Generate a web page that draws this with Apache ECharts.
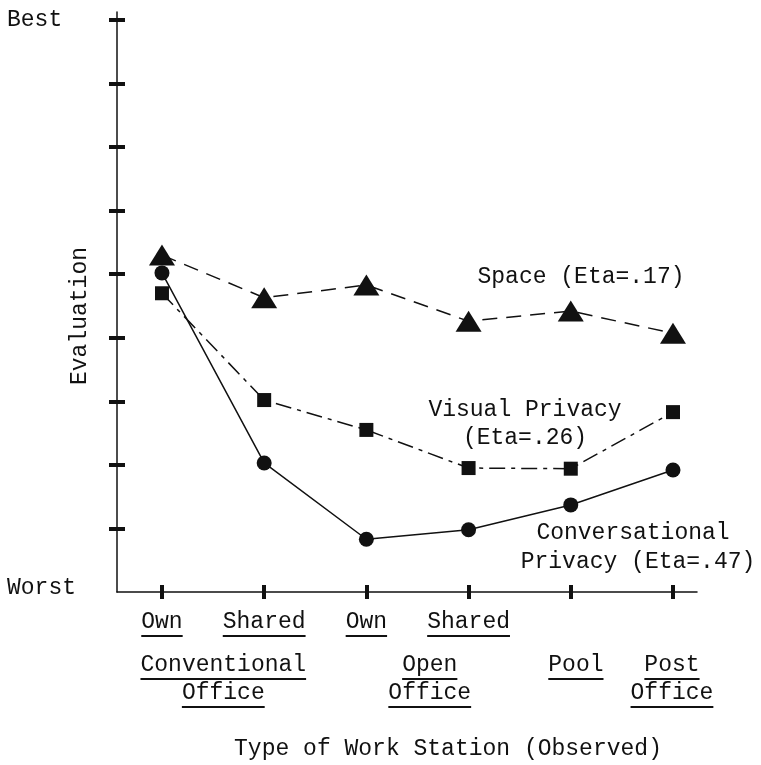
<!DOCTYPE html>
<html>
<head>
<meta charset="utf-8">
<script src="https://cdn.jsdelivr.net/npm/echarts@6/dist/echarts.min.js"></script>
<style>
  html, body { margin: 0; padding: 0; background: #fff; }
  #chart { width: 761px; height: 765px; }
</style>
</head>
<body>
<div id="chart"></div>
<script>
// ---- data ----
var stationLabels = ['Own', 'Shared', 'Own', 'Shared', '', ''];
var groupLabels = [['Conventional', 'Office'], ['Open', 'Office'], ['Pool'], ['Post', 'Office']];
var groupPos = [0.6, 2.62, 4.05, 4.99];
var yTickLabels = { 0: 'Worst', 9: 'Best' };
var yTicks = [1, 2, 3, 4, 5, 6, 7, 8, 9];
var spaceVals = [5.30, 4.63, 4.83, 4.26, 4.42, 4.07];
var visualVals = [4.70, 3.02, 2.55, 1.95, 1.94, 2.83];
var convVals = [5.02, 2.03, 0.83, 0.98, 1.37, 1.92];

var FONT = '"Liberation Mono", "DejaVu Sans Mono", monospace';
var INK = '#111';

function pairs(vals) { return vals.map(function (v, i) { return [i, v]; }); }
function blanks(s) { return s.replace(/./g, ' '); }
function ul(s) { return '{t|' + s + '}\n{u|' + blanks(s) + '}'; }

var chart = echarts.init(document.getElementById('chart'), null, { renderer: 'canvas' });

var richLbl = {
  t: { fontFamily: FONT, fontSize: 23, color: INK, lineHeight: 22 },
  u: { fontFamily: FONT, fontSize: 23, lineHeight: 6, height: 2, backgroundColor: INK }
};

var option = {
  backgroundColor: '#fff',
  animation: false,
  grid: { left: 117, right: 64, top: 12, bottom: 173 },
  xAxis: [{
    type: 'value', min: -0.44, max: 5.235, position: 'bottom',
    splitLine: { show: false },
    axisLine: { onZero: false, lineStyle: { color: INK, width: 1.5 } },
    axisTick: { customValues: [0, 1, 2, 3, 4, 5], length: 7, lineStyle: { color: INK, width: 4 } },
    axisLabel: {
      customValues: [0, 1, 2, 3],
      margin: 19,
      formatter: function (v) {
        var s = stationLabels[Math.round(v)];
        return s ? ul(s) : '';
      },
      rich: richLbl
    }
  }, {
    type: 'value', min: -0.44, max: 5.235, position: 'bottom',
    splitLine: { show: false },
    axisLine: { show: false, onZero: false },
    axisTick: { show: true, inside: true, customValues: [0, 1, 2, 3, 4, 5], length: 7, lineStyle: { color: INK, width: 4 } },
    axisLabel: {
      customValues: groupPos,
      margin: 62,
      formatter: function (v) {
        var idx = groupPos.indexOf(v);
        if (idx < 0) return '';
        return groupLabels[idx].map(ul).join('\n');
      },
      rich: richLbl
    }
  }],
  yAxis: [{
    type: 'value', min: 0, max: 9.125,
    splitLine: { show: false },
    axisLine: { onZero: false, lineStyle: { color: INK, width: 1.5 } },
    axisTick: { customValues: yTicks, length: 8, lineStyle: { color: INK, width: 4 } },
    axisLabel: {
      customValues: [0, 9],
      align: 'left',
      margin: 110,
      formatter: function (v) {
        return v === 0 ? '{w|' + yTickLabels[0] + '}' : '{b|' + yTickLabels[9] + '}';
      },
      rich: {
        w: { fontFamily: FONT, fontSize: 23, color: INK, padding: [0, 0, 8, 0] },
        b: { fontFamily: FONT, fontSize: 23, color: INK }
      }
    }
  }, {
    type: 'value', min: 0, max: 9.125, position: 'left',
    splitLine: { show: false },
    axisLine: { show: false, onZero: false },
    axisTick: { inside: true, customValues: yTicks, length: 8, lineStyle: { color: INK, width: 4 } },
    axisLabel: { show: false }
  }],
  graphic: [
    { type: 'text', x: 80, y: 316, rotation: Math.PI / 2,
      style: { text: 'Evaluation', font: '23px ' + FONT, fill: INK, align: 'center', verticalAlign: 'middle' } },
    { type: 'text', x: 448, y: 749,
      style: { text: 'Type of Work Station (Observed)', font: '23px ' + FONT, fill: INK, align: 'center', verticalAlign: 'middle' } },
    { type: 'text', x: 581, y: 277,
      style: { text: 'Space (Eta=.17)', font: '23px ' + FONT, fill: INK, align: 'center', verticalAlign: 'middle' } },
    { type: 'text', x: 525, y: 410,
      style: { text: 'Visual Privacy', font: '23px ' + FONT, fill: INK, align: 'center', verticalAlign: 'middle' } },
    { type: 'text', x: 525, y: 438,
      style: { text: '(Eta=.26)', font: '23px ' + FONT, fill: INK, align: 'center', verticalAlign: 'middle' } },
    { type: 'text', x: 633, y: 533,
      style: { text: 'Conversational', font: '23px ' + FONT, fill: INK, align: 'center', verticalAlign: 'middle' } },
    { type: 'text', x: 638, y: 562,
      style: { text: 'Privacy (Eta=.47)', font: '23px ' + FONT, fill: INK, align: 'center', verticalAlign: 'middle' } }
  ],
  series: [{
    name: 'Space', type: 'line', data: pairs(spaceVals),
    symbol: 'triangle', symbolSize: [26, 21],
    lineStyle: { color: INK, width: 1.5, type: [15, 9] },
    itemStyle: { color: INK }, z: 3
  }, {
    name: 'Visual Privacy', type: 'line', data: pairs(visualVals),
    symbol: 'rect', symbolSize: 14,
    lineStyle: { color: INK, width: 1.5, type: [16, 6, 4, 6] },
    itemStyle: { color: INK }, z: 3
  }, {
    name: 'Conversational Privacy', type: 'line', data: pairs(convVals),
    symbol: 'circle', symbolSize: 15,
    lineStyle: { color: INK, width: 1.5, type: 'solid' },
    itemStyle: { color: INK }, z: 3
  }]
};
chart.setOption(option);
</script>
</body>
</html>
